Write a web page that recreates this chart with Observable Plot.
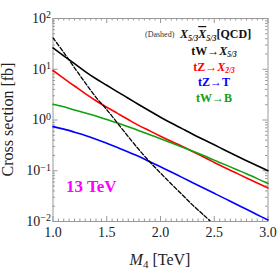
<!DOCTYPE html>
<html><head><meta charset="utf-8">
<script src="https://cdn.jsdelivr.net/npm/d3@7"></script>
<script src="https://cdn.jsdelivr.net/npm/@observablehq/plot@0.6"></script>
<style>body{margin:0;background:#fff}</style>
</head><body><div id="chart"></div>
<script>
const mass = [1.0,1.1,1.2,1.3,1.4,1.5,1.6,1.7,1.8,1.9,2.0,2.1,2.2,2.3,2.4,2.5,2.6,2.7,2.8,2.9,3.0];
const tW_X53 = [26.3,18.4,12.9,9.0,6.5,4.84,3.59,2.69,2.0,1.50,1.135,0.87,0.676,0.525,0.412,0.324,0.254,0.2,0.158,0.126,0.1];
const tZ_X23 = [9.44,6.61,4.68,3.31,2.40,1.78,1.35,1.02,0.776,0.61,0.479,0.38,0.305,0.24,0.186,0.146,0.115,0.091,0.072,0.0575,0.0457];
const tZ_T = [0.741,0.661,0.575,0.495,0.417,0.347,0.288,0.234,0.191,0.151,0.120,0.0944,0.0741,0.0582,0.0457,0.0359,0.0282,0.0221,0.0174,0.0136,0.0107];
const tW_B = [2.04,1.82,1.58,1.38,1.20,1.02,0.871,0.733,0.617,0.513,0.427,0.355,0.295,0.243,0.2,0.162,0.132,0.107,0.087,0.07,0.056];
const qcdMass = [1.0,1.1,1.2,1.3,1.4,1.5,1.6,1.7,1.8,1.9,2.0,2.1,2.2,2.3,2.4,2.5];
const qcdPair = [41.7,21.4,10.7,5.4,2.8,1.6,0.87,0.47,0.26,0.15,0.09,0.055,0.034,0.021,0.0135,0.0086];
const xTicks = [1.0,1.5,2.0,2.5,3.0];
const yTicks = [1e-2,1e-1,1,10,100];

const series = [
  {name:"tW→X5/3", vals:tW_X53, color:"#000000"},
  {name:"tZ→X2/3", vals:tZ_X23, color:"#ff0000"},
  {name:"tZ→T", vals:tZ_T, color:"#0000ff"},
  {name:"tW→B", vals:tW_B, color:"#10a010"}
];
const rows = series.flatMap(s => mass.map((m,i)=>({m, v:s.vals[i], s:s.name, c:s.color})));
const qcd = qcdMass.map((m,i)=>({m, v:qcdPair[i]}));

const W=278,H=272, mL=52.5, mR=10.5, mT=18, mB=51;
const pw=W-mL-mR, ph=H-mT-mB;
const xMinor = d3.range(1.0,3.0001,0.05).map(d=>+d.toFixed(2)).filter(d=>!xTicks.some(t=>Math.abs(t-d)<1e-6));
const yMinor = [];
for (let e=-2;e<2;e++) for (let k=2;k<=9;k++) yMinor.push(k*Math.pow(10,e));
const tc = "#999";
const serif = "'Liberation Serif','DejaVu Serif',serif";

const plot = Plot.plot({
  width:W, height:H, marginLeft:mL, marginRight:mR, marginTop:mT, marginBottom:mB,
  style:{fontFamily:serif, background:"#fff"},
  x:{domain:[1,3]},
  y:{type:"log", domain:[0.01,100]},
  marks:[
    Plot.frame({stroke:tc, strokeWidth:1}),
    Plot.tickX(xTicks,{x:d=>d, stroke:tc, insetTop:ph-5}),
    Plot.tickX(xTicks,{x:d=>d, stroke:tc, insetBottom:ph-5}),
    Plot.tickX(xMinor,{x:d=>d, stroke:tc, insetTop:ph-2.5}),
    Plot.tickX(xMinor,{x:d=>d, stroke:tc, insetBottom:ph-2.5}),
    Plot.tickY(yTicks,{y:d=>d, stroke:tc, insetRight:pw-5}),
    Plot.tickY(yTicks,{y:d=>d, stroke:tc, insetLeft:pw-5}),
    Plot.tickY(yMinor,{y:d=>d, stroke:tc, insetRight:pw-2.5}),
    Plot.tickY(yMinor,{y:d=>d, stroke:tc, insetLeft:pw-2.5}),
    Plot.axisX(xTicks,{tickSize:0, tickPadding:6, tickFormat:d=>d.toFixed(1), fontSize:14, fill:"#222", label:null}),
    Plot.axisY(yTicks,{tickSize:0, tickPadding:2, tickFormat:d=>String(Math.round(Math.log10(d))), fontSize:14, fill:"#222", label:null}),
    Plot.line(rows,{x:"m", y:"v", z:"s", stroke:"c", strokeWidth:1.6, curve:"catmull-rom"}),
    Plot.line(qcd,{x:"m", y:"v", stroke:"#000", strokeWidth:1.3, strokeDasharray:"4,2", curve:"catmull-rom", clip:true}),
    Plot.text(["13 TeV"],{frameAnchor:"bottom-left", dx:13, dy:-30, fill:"#ff00ff", fontSize:17, fontWeight:"bold", textAnchor:"start"})
  ]
});
document.getElementById("chart").appendChild(plot);

const svg = d3.select(plot);
svg.selectAll('[aria-label="y-axis tick label"] text').each(function(){
  const t = d3.select(this); const e = t.text().replace("-","−");
  t.text(null);
  t.append("tspan").text("10");
  t.append("tspan").attr("dy","-0.45em").attr("font-size","10").text(e);
});
svg.append("text").attr("transform",`translate(13,${mT+ph/2}) rotate(-90)`)
  .attr("text-anchor","middle").attr("font-family",serif).attr("font-size",16).attr("fill","#222")
  .text("Cross section [fb]");
const xl = svg.append("text").attr("x",mL+pw/2).attr("y",265).attr("text-anchor","middle")
  .attr("font-family",serif).attr("font-size",16).attr("fill","#222");
xl.append("tspan").attr("font-style","italic").text("M");
xl.append("tspan").attr("dy","3").attr("font-size","11").text("4");
xl.append("tspan").attr("dy","-3").text(" [TeV]");

const lg = svg.append("g").attr("font-family",serif).attr("font-weight","bold").attr("font-size",12).attr("text-anchor","start");
lg.append("text").attr("x",145).attr("y",37).attr("font-size",8).attr("font-weight","normal").attr("fill","#333").text("(Dashed)");
const q = lg.append("text").attr("x",180).attr("y",38).attr("fill","#111");
q.append("tspan").attr("font-style","italic").text("X");
q.append("tspan").attr("dy","3").attr("font-size","8").attr("font-style","italic").text("5/3");
q.append("tspan").attr("dy","-3").attr("font-style","italic").attr("text-decoration","overline").text("X");
q.append("tspan").attr("dy","3").attr("font-size","8").attr("font-style","italic").text("5/3");
q.append("tspan").attr("dy","-3").text("[QCD]");
function entry(y, color, pre, it, sub){
  const t = lg.append("text").attr("x",214).attr("y",y).attr("text-anchor","middle").attr("fill",color);
  t.append("tspan").text(pre);
  if (it){ t.append("tspan").attr("font-style","italic").text(it);
    t.append("tspan").attr("dy","2").attr("font-size","7.5").attr("font-style","italic").text(sub); }
}
entry(55,"#111","tW→","X","5/3");
entry(71,"#ff0000","tZ→","X","2/3");
entry(86,"#0000ff","tZ→T");
entry(102,"#10a010","tW→B");
</script></body></html>
